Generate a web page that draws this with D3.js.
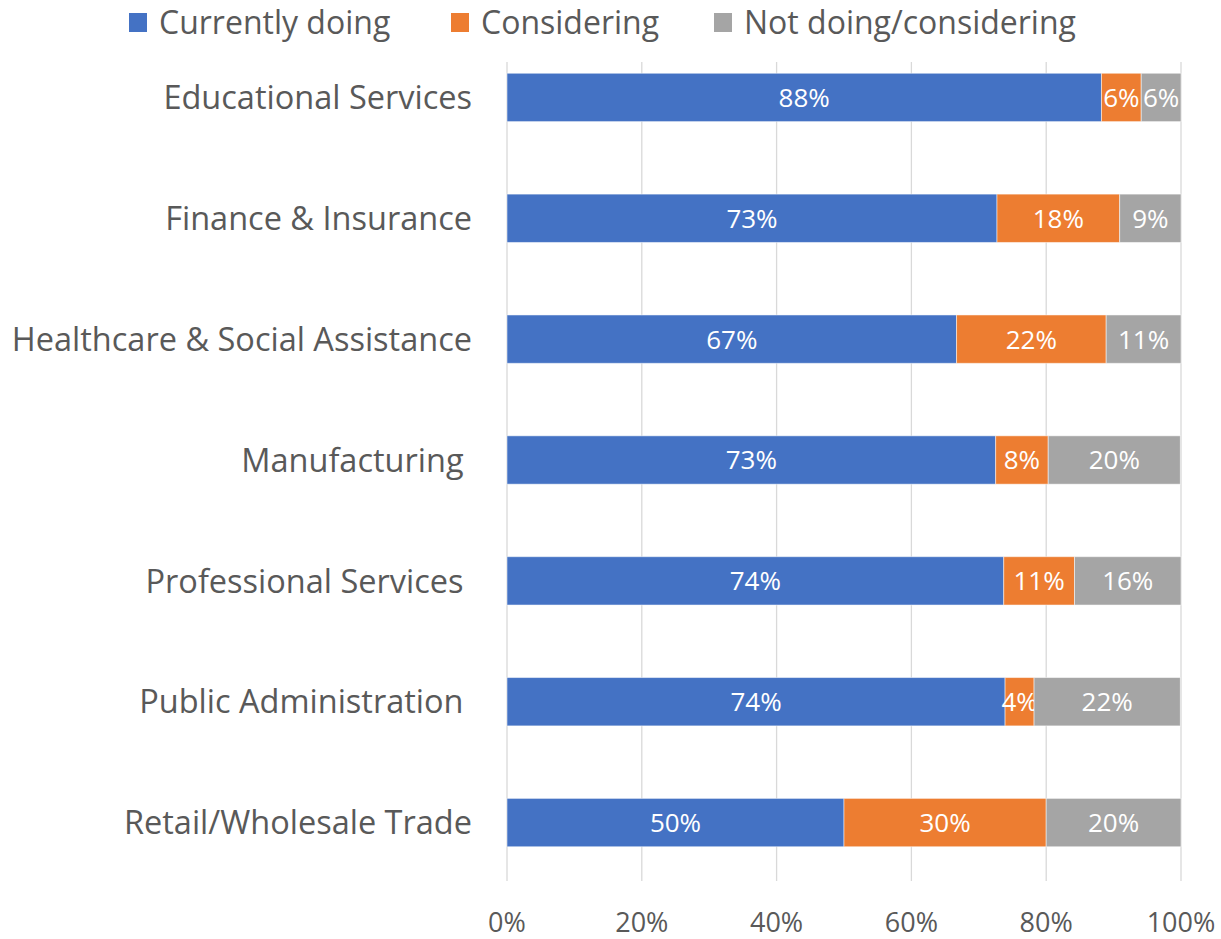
<!DOCTYPE html>
<html>
<head>
<meta charset="utf-8">
<script src="https://cdn.jsdelivr.net/npm/d3@7"></script>
<style>
  body { margin: 0; background: #fff; }
  text { font-family: "Open Sans", "Noto Sans", sans-serif; }
</style>
</head>
<body>
<div class="chart"></div>
<script>
const categories = [
  "Educational Services",
  "Finance & Insurance",
  "Healthcare & Social Assistance",
  "Manufacturing ",
  "Professional Services ",
  "Public Administration ",
  "Retail/Wholesale Trade"
];
const seriesNames = ["Currently doing", "Considering", "Not doing/considering"];
const colors = ["#4472c4", "#ed7d31", "#a5a5a5"];
const currentlyDoing = [88.2, 72.7, 66.7, 72.5, 73.7, 73.9, 50];
const considering = [5.9, 18.2, 22.2, 7.8, 10.5, 4.3, 30];
const notDoing = [5.9, 9.1, 11.1, 19.6, 15.8, 21.7, 20];
const xTicks = [0, 20, 40, 60, 80, 100];

const width = 1221;
const height = 939;

const rows = categories.map((c, i) => ({
  cat: c,
  "Currently doing": currentlyDoing[i],
  "Considering": considering[i],
  "Not doing/considering": notDoing[i]
}));
const stacked = d3.stack().keys(seriesNames)(rows);

const svg = d3.select(".chart").append("svg")
  .attr("width", width)
  .attr("height", height);

const x = d3.scaleLinear().domain([0, 100]).range([507, 1181]);
const y = d3.scaleBand().domain(categories).range([37, 883])
  .paddingInner(0.6).paddingOuter(0.3);

// gridlines
svg.append("g")
  .selectAll("line")
  .data(xTicks)
  .join("line")
  .attr("x1", d => x(d)).attr("x2", d => x(d))
  .attr("y1", 62).attr("y2", 881)
  .attr("stroke", "#d9d9d9")
  .attr("stroke-width", 1.3);

// x tick labels
svg.append("g")
  .selectAll("text")
  .data(xTicks)
  .join("text")
  .attr("x", d => x(d))
  .attr("y", 922)
  .attr("dy", "0.36em")
  .attr("text-anchor", "middle")
  .attr("fill", "#595959")
  .style("font-size", "27px")
  .text(d => d + "%");

// bars
const groups = svg.append("g")
  .selectAll("g")
  .data(stacked)
  .join("g")
  .attr("fill", (d, i) => colors[i]);

groups.selectAll("rect")
  .data(d => d)
  .join("rect")
  .attr("x", d => x(d[0]))
  .attr("y", d => y(d.data.cat))
  .attr("width", d => x(d[1]) - x(d[0]))
  .attr("height", y.bandwidth())
  .attr("stroke", "#ffffff")
  .attr("stroke-opacity", 0.5)
  .attr("stroke-width", 1);

// data labels
groups.selectAll("text")
  .data(d => d)
  .join("text")
  .attr("x", d => (x(d[0]) + x(d[1])) / 2)
  .attr("y", d => y(d.data.cat) + y.bandwidth() / 2)
  .attr("dy", "0.36em")
  .attr("text-anchor", "middle")
  .attr("fill", "#ffffff")
  .style("font-size", "26px")
  .text(d => Math.round(d[1] - d[0]) + "%");

// category labels
svg.append("g")
  .selectAll("text")
  .data(categories)
  .join("text")
  .attr("x", 472)
  .attr("y", d => y(d) + y.bandwidth() / 2)
  .attr("dy", "0.36em")
  .attr("text-anchor", "end")
  .attr("fill", "#595959")
  .style("font-size", "32.5px")
  .style("white-space", "pre")
  .text(d => d);

// legend
const legendX = [129, 451, 714];
const legend = svg.append("g")
  .selectAll("g")
  .data(seriesNames)
  .join("g")
  .attr("transform", (d, i) => `translate(${legendX[i]}, 22)`);

legend.append("rect")
  .attr("x", 0).attr("y", -9)
  .attr("width", 18).attr("height", 19)
  .attr("fill", (d, i) => colors[i]);

legend.append("text")
  .attr("x", 30)
  .attr("dy", "0.36em")
  .attr("fill", "#595959")
  .style("font-size", "32px")
  .text(d => d);
</script>
</body>
</html>
